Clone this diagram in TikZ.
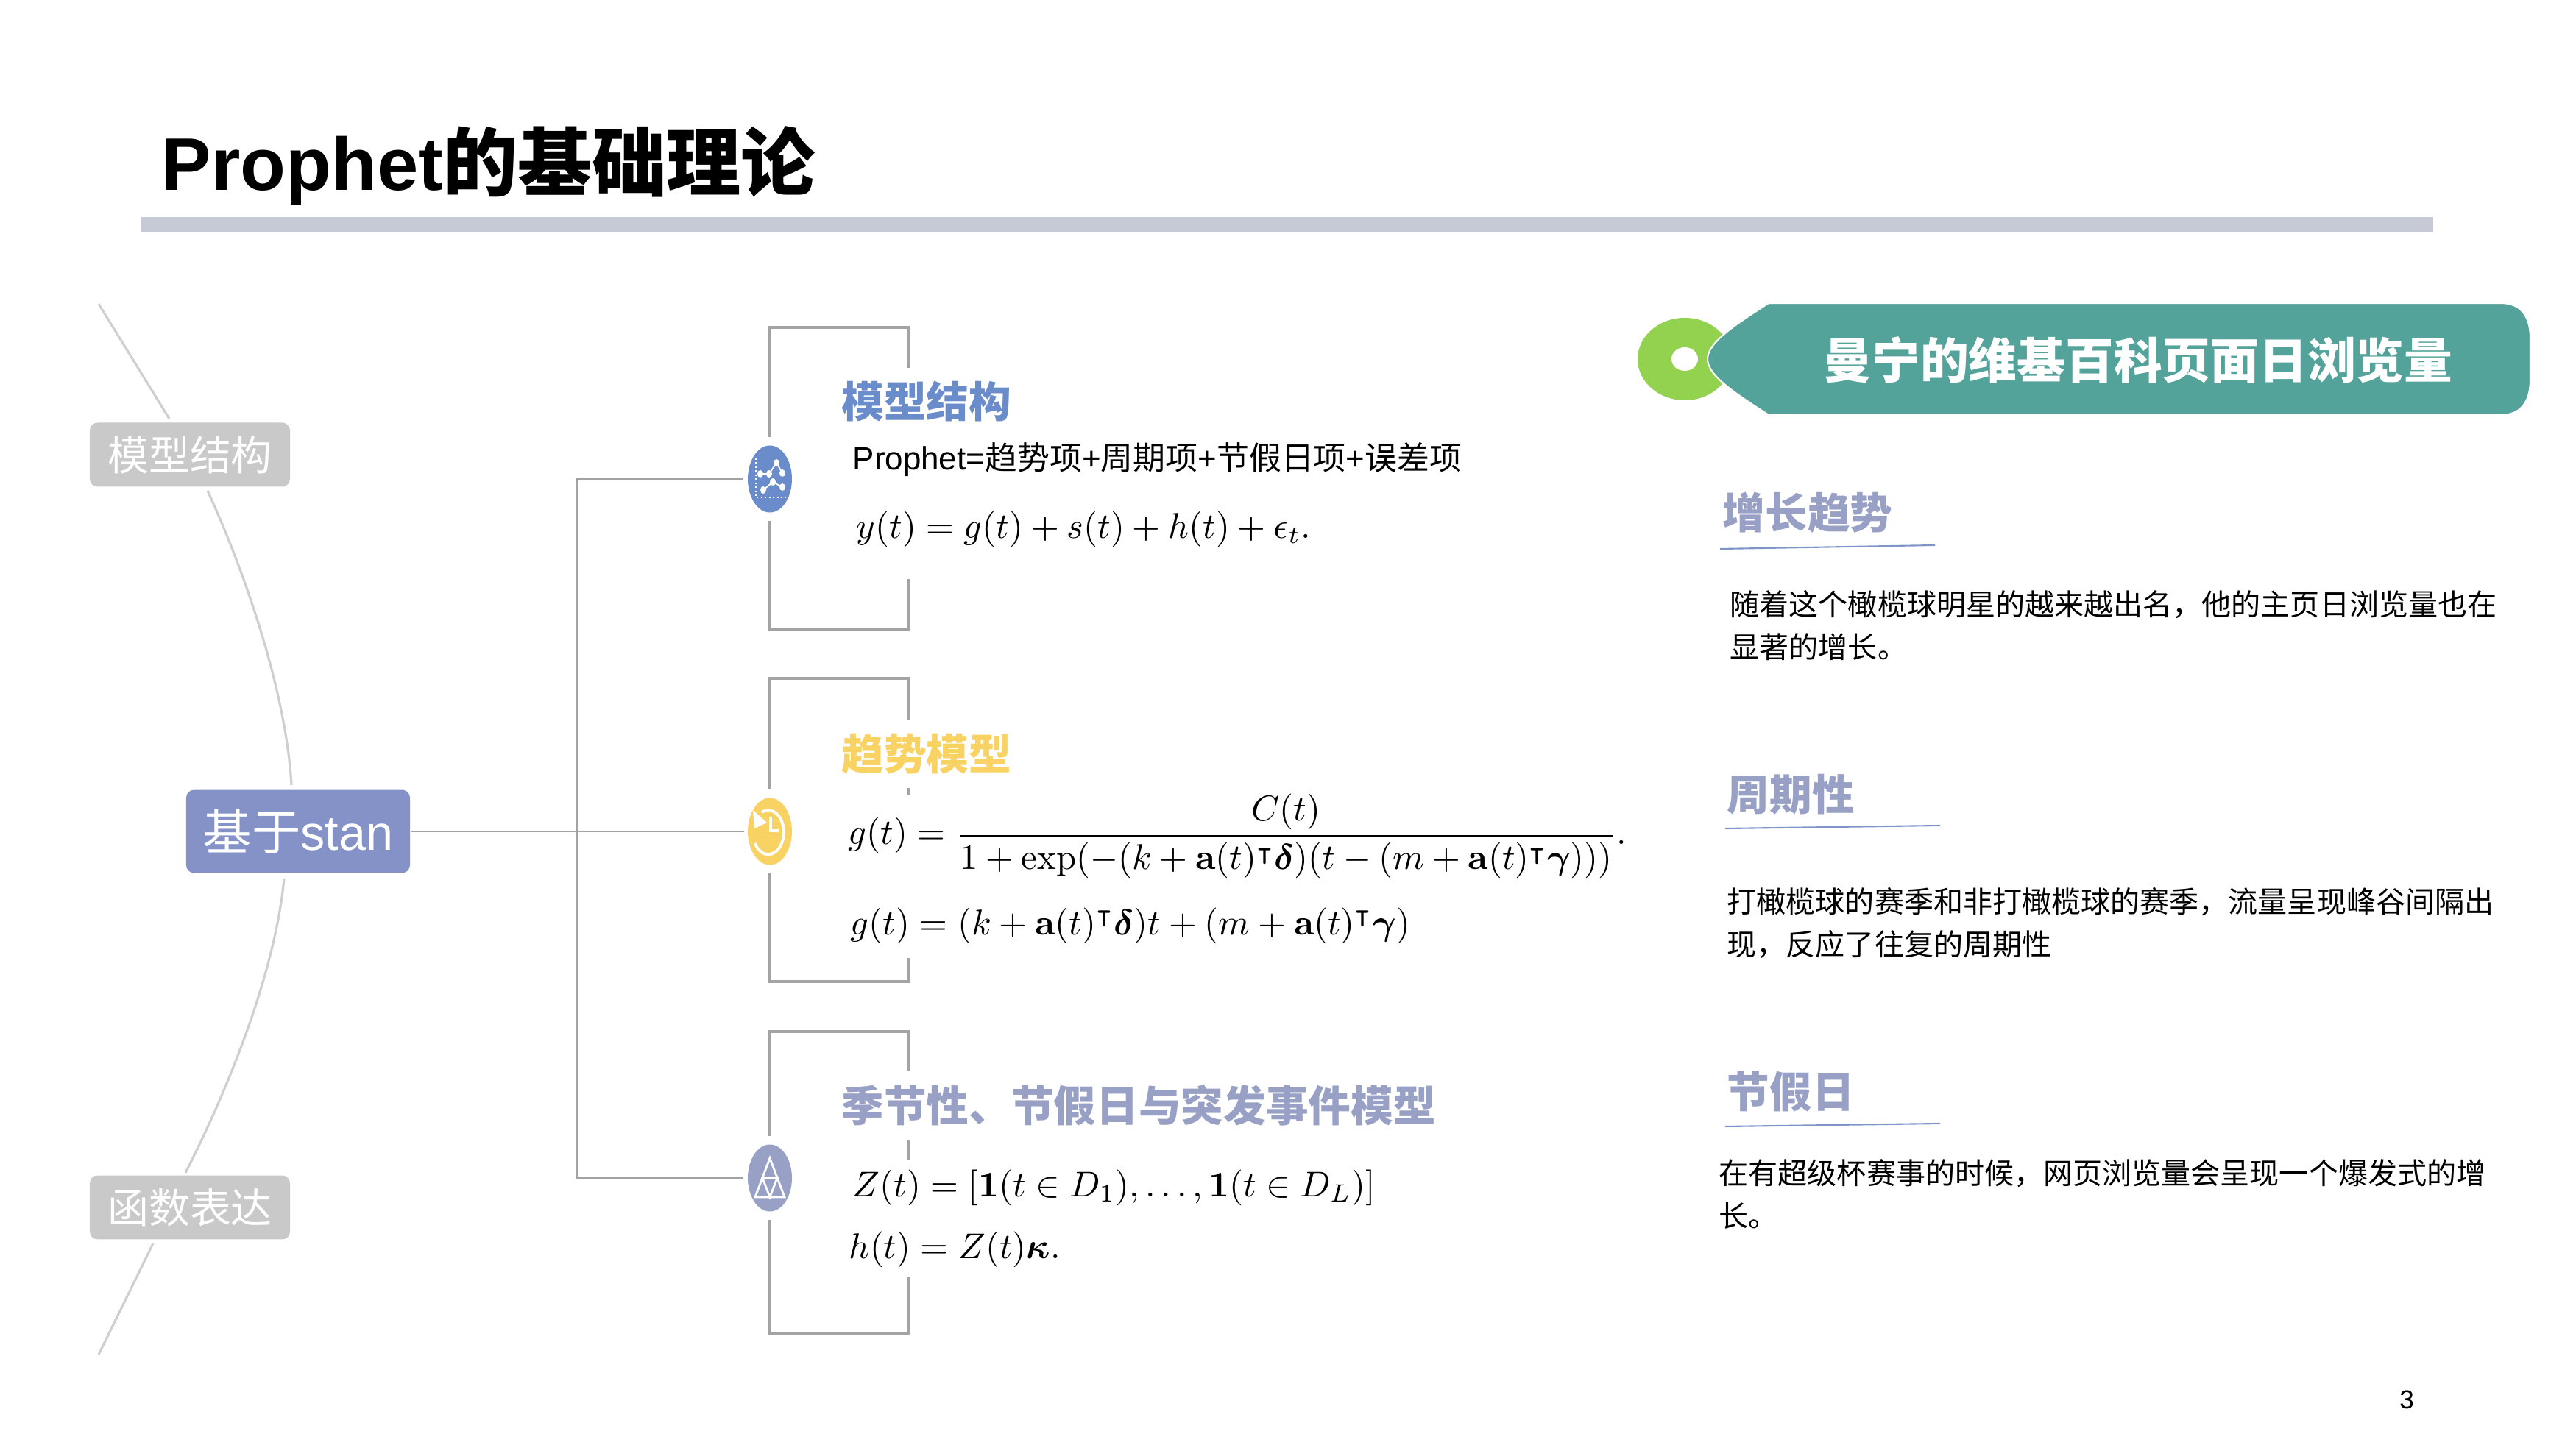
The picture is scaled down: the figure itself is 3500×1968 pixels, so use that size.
\documentclass[tikz,border=0pt]{standalone}
\usepackage{amsmath, amssymb}
\usepackage[no-math]{fontspec}
\setmainfont{Liberation Sans}
\newfontfamily\cjk{Noto Sans CJK SC}
\usetikzlibrary{shapes.geometric}
\definecolor{barGray}{HTML}{C6CAD6}
\definecolor{lineGray}{HTML}{A3A3A3}
\definecolor{curveGray}{HTML}{CFCFCF}
\definecolor{tagGray}{HTML}{C9C9C9}
\definecolor{baseBlue}{HTML}{8492C8}
\definecolor{modelBlue}{HTML}{6B8CCB}
\definecolor{trendYellow}{HTML}{F9D264}
\definecolor{seasonLilac}{HTML}{98A1C5}
\definecolor{bannerTeal}{HTML}{54A39B}
\definecolor{dotGreen}{HTML}{93D24F}
\definecolor{ruleBlue}{HTML}{7F95C8}
\tikzset{
    link/.style={draw=lineGray, line width=0.75pt},
    bracket/.style={draw=lineGray, line width=1.3pt, shorten <=3.2pt},
    arcline/.style={draw=curveGray, line width=0.9pt},
    tagbox/.style={fill=tagGray, text=white, rounded corners=3pt, minimum width=77.4pt, minimum height=24.75pt, inner sep=0pt, font=\cjk\fontsize{15.9}{18}\selectfont},
    iconball/.style={ellipse, inner sep=0pt, outer sep=0pt, minimum width=17.07pt, minimum height=25.9pt},
    headtext/.style={anchor=west, inner sep=0pt, font=\cjk\bfseries\fontsize{16.4}{20}\selectfont},
    bodytext/.style={anchor=north west, inner sep=0pt, align=left, font=\cjk\fontsize{11.4}{16.5}\selectfont},
    formula/.style={anchor=west, inner sep=0pt, scale=1.385},
    headrule/.style={draw=ruleBlue, line width=0.6pt},
    glyph/.style={draw=white, line width=0.55pt},
}
\begin{document}
\begin{tikzpicture}[x=0.1mm, y=-0.1mm]
    \useasboundingbox (0,0) rectangle (3500,1968);

    \node[anchor=base west, inner sep=0pt, font=\bfseries\fontsize{28.8}{34}\selectfont] (mainTitle) at (219,259) {Prophet{\cjk 的基础理论}};
    \fill[barGray] (192,295) rectangle (3306,315);

    % left column
    \node[tagbox] (tagModel) at (258,618) {\raisebox{1pt}{模型结构}};
    \node[tagbox] (tagFunc) at (258,1641) {\raisebox{1pt}{函数表达}};
    \node[fill=baseBlue, text=white, rounded corners=3pt, minimum width=86.5pt, minimum height=32.1pt, inner sep=0pt, font=\fontsize{18.9}{22}\selectfont] (baseNode) at (405,1130) {{\cjk 基于}stan};

    \coordinate (arcTop) at (134,413);
    \coordinate (arcA) at (230,569);
    \coordinate (arcB) at (282,667);
    \coordinate (arcC) at (396,1067);
    \coordinate (arcD) at (386,1194);
    \coordinate (arcE) at (252,1594);
    \coordinate (arcF) at (208,1690);
    \coordinate (arcEnd) at (134,1841);
    \draw[arcline] (arcTop) -- (arcA);
    \draw[arcline] (arcB) .. controls (325,760) and (388,930) .. (arcC);
    \draw[arcline] (arcD) .. controls (375,1310) and (320,1460) .. (arcE);
    \draw[arcline] (arcF) -- (arcEnd);

    % icons
    \node[iconball, fill=modelBlue] (iconModel) at (1046,651) {};
    \node[iconball, fill=trendYellow] (iconTrend) at (1046,1130) {};
    \node[iconball, fill=seasonLilac] (iconSeason) at (1046,1601) {};

    \draw[link] (baseNode.east) -- ++(453,0);
    \draw[link, shorten >=1.7pt, shorten <=1.7pt] (iconModel.west) -- ++(-232,0) |- (iconSeason.west);

    \draw[bracket] (iconModel.north) |- (1234,445) -- (1234,500);
    \draw[bracket] (iconModel.south) |- (1234,856) -- (1234,787);
    \draw[bracket] (iconTrend.north) |- (1234,922) -- (1234,978);
    \draw[bracket] (iconTrend.south) |- (1234,1334) -- (1234,1302);
    \draw[bracket] (iconSeason.north) |- (1234,1402) -- (1234,1456);
    \draw[bracket] (iconSeason.south) |- (1234,1812) -- (1234,1735);
    \draw[draw=lineGray, line width=1.3pt] (1234,1071) -- (1234,1080);
    \draw[draw=lineGray, line width=1.3pt] (1234,1550) -- (1234,1576);

    % icon glyphs
    \draw[glyph, densely dotted] (1027,623) -- (1027,676) -- (1067,676);
    \draw[glyph] (1033,644) -- (1045,644) -- (1055,629) -- (1063,643);
    \draw[glyph] (1037,666) -- (1050,655) -- (1063,662);
    \foreach \dotx/\doty in {1033/644, 1045/644, 1055/629, 1063/643, 1037/666, 1050/655, 1063/662}
        \fill[white] (\dotx,\doty) ellipse (4 and 5);

    \draw[glyph, line width=1.1pt] (1035,1104) arc[start angle=245, end angle=510, x radius=21, y radius=30];
    \fill[white] (1023,1101) -- (1025,1126) -- (1042,1118) -- cycle;
    \draw[glyph, line width=0.9pt] (1047,1110) -- (1047,1129) -- (1058,1129);

    \draw[glyph, line width=0.8pt] (1046,1574) -- (1026,1627) -- (1066,1627) -- cycle;
    \draw[glyph, line width=0.8pt] (1036,1601) -- (1056,1601) -- (1046,1627) -- cycle;

    % middle column
    \node[headtext, text=modelBlue] (headModel) at (1143,545) {模型结构};
    \node[anchor=west, inner sep=0pt, font=\fontsize{12.5}{15}\selectfont] (proText) at (1158,625) {Prophet={\cjk 趋势项}+{\cjk 周期项}+{\cjk 节假日项}+{\cjk 误差项}};
    \node[formula] (eqY) at (1163,719) {$y(t)=g(t)+s(t)+h(t)+\epsilon_t.$};

    \node[headtext, text=trendYellow] (headTrend) at (1143,1025) {趋势模型};
    \node[formula] (eqLogistic) at (1152,1136) {$g(t)=\dfrac{C(t)}{1+\exp(-(k+\mathbf{a}(t)^{\intercal}\boldsymbol{\delta})(t-(m+\mathbf{a}(t)^{\intercal}\boldsymbol{\gamma})))}.$};
    \node[formula] (eqLinear) at (1155,1258) {$g(t)=(k+\mathbf{a}(t)^{\intercal}\boldsymbol{\delta})t+(m+\mathbf{a}(t)^{\intercal}\boldsymbol{\gamma})$};

    \node[headtext, text=seasonLilac] (headSeason) at (1143,1502) {季节性、节假日与突发事件模型};
    \node[formula] (eqZ) at (1158,1614) {$Z(t)=[\mathbf{1}(t\in D_1),\dots,\mathbf{1}(t\in D_L)]$};
    \node[formula] (eqH) at (1153,1698) {$h(t)=Z(t)\boldsymbol{\kappa}.$};

    % right column
    \fill[dotGreen] (2289,488) ellipse (64 and 56);
    \fill[white] (2289,488) ellipse (18 and 16);
    \draw[fill=bannerTeal, draw=white, line width=0.6pt] (2403,412) -- (3398,412) .. controls (3425,412) and (3438,430) .. (3438,460) -- (3438,516) .. controls (3438,546) and (3425,564) .. (3398,564) -- (2403,564) .. controls (2360,536) and (2320,511) .. (2320,488) .. controls (2320,465) and (2360,440) .. (2403,412) -- cycle;
    \node[text=white, inner sep=0pt, font=\cjk\bfseries\fontsize{18.7}{22}\selectfont] (bannerText) at (2905,489) {曼宁的维基百科页面日浏览量};

    \node[headtext, text=seasonLilac] (headGrowth) at (2340,697) {增长趋势};
    \draw[headrule] (2337,746) -- (2629,741);
    \node[bodytext] (bodyGrowth) at (2350,802) {随着这个橄榄球明星的越来越出名，他的主页日浏览量也在\\显著的增长。};

    \node[headtext, text=seasonLilac] (headCycle) at (2346,1080) {周期性};
    \draw[headrule] (2344,1126) -- (2636,1122);
    \node[bodytext] (bodyCycle) at (2346,1206) {打橄榄球的赛季和非打橄榄球的赛季，流量呈现峰谷间隔出\\现，反应了往复的周期性};

    \node[headtext, text=seasonLilac] (headHoliday) at (2346,1484) {节假日};
    \draw[headrule] (2344,1531) -- (2636,1527);
    \node[bodytext] (bodyHoliday) at (2335,1575) {在有超级杯赛事的时候，网页浏览量会呈现一个爆发式的增\\长。};

    \node[inner sep=0pt, font=\fontsize{10}{12}\selectfont] (pageNum) at (3270,1902) {3};
\end{tikzpicture}
\end{document}
